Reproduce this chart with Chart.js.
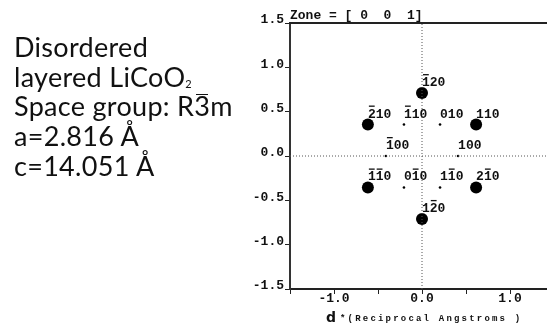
<!DOCTYPE html>
<html>
<head>
<meta charset="utf-8">
<script src="https://cdn.jsdelivr.net/npm/chart.js@4.4.1/dist/chart.umd.min.js"></script>
<style>
html, body { margin: 0; padding: 0; background: #fff; overflow: hidden; }
#wrap { position: relative; width: 547px; height: 326px; overflow: hidden; }
#grafica { position: absolute; left: 0; top: 0; }
.info { position: absolute; left: 14px; top: 32px; font-family: Lato, sans-serif; font-size: 27px; line-height: 29.7px; letter-spacing: 0.3px; color: #111; white-space: nowrap; }
.info sub { font-size: 11px; line-height: 0; vertical-align: -1px; }
.bar { position: relative; }
.bar::before { content: ''; position: absolute; left: 2px; right: 2px; top: 5px; border-top: 1.5px solid #111; }
</style>
</head>
<body>
<div id="wrap">
  <canvas id="grafica" width="560" height="326"></canvas>
  <div class="info">Disordered<br>layered LiCoO<sub>2</sub><br>Space group: R<span class="bar">3</span>m<br>a=2.816 Å<br>c=14.051 Å</div>
</div>
<script>
// reflexiones fuertes (puntos grandes), '-' = barra sobre el siguiente digito
var spotLabels = ['-120', '-210', '110', '-1-10', '2-10', '1-20'];
var spotX = [0, -0.615, 0.615, -0.615, 0.615, 0];
var spotY = [0.71, 0.355, 0.355, -0.355, -0.355, -0.71];

// reflexiones debiles (puntos chicos)
var weakLabels = ['-110', '010', '-100', '100', '0-10', '1-10'];
var weakX = [-0.205, 0.205, -0.41, 0.41, -0.205, 0.205];
var weakY = [0.355, 0.355, 0, 0, -0.355, -0.355];

var yTickValues = [-1.5, -1.0, -0.5, 0, 0.5, 1.0, 1.5];
var yTickLabels = ['-1.5', '-1.0', '-0.5', '0.0', '0.5', '1.0', '1.5'];
var xTickValues = [-1.5, -1.0, -0.5, 0, 0.5, 1.0, 1.5];
var xTickLabels = ['', '-1.0', '', '0.0', '', '1.0', ''];

var zoneTitle = 'Zone = [ 0  0  1]';
var axisTitleBig = 'd';
var axisTitleSmall = '*(Reciprocal Angstroms )';

var mono = '"Liberation Mono", "DejaVu Sans Mono", monospace';

function toPoints(xs, ys) {
    return xs.map(function (x, i) { return { x: x, y: ys[i] }; });
}

function drawMiller(ctx, text, x, y) {
    var cx = x;
    for (var i = 0; i < text.length; i++) {
        var ch = text[i];
        var bar = false;
        if (ch === '-') { bar = true; ch = text[++i]; }
        var w = ctx.measureText(ch).width;
        ctx.fillText(ch, cx, y);
        if (bar) {
            ctx.fillRect(cx + 1, y - 12, w - 2, 1.3);
        }
        cx += w;
    }
}

var extras = {
    id: 'extras',
    afterDatasetsDraw: function (chart) {
        var ctx = chart.ctx;
        var a = chart.chartArea;
        var sx = chart.scales.x, sy = chart.scales.y;
        ctx.save();
        // marco superior
        ctx.strokeStyle = '#222';
        ctx.lineWidth = 2;
        ctx.beginPath();
        ctx.moveTo(a.left - 1, a.top);
        ctx.lineTo(a.right, a.top);
        ctx.stroke();

        // etiquetas de Miller
        ctx.fillStyle = '#111';
        ctx.font = 'bold 13px ' + mono;
        ctx.textAlign = 'left';
        ctx.textBaseline = 'alphabetic';
        spotLabels.forEach(function (t, i) {
            drawMiller(ctx, t, sx.getPixelForValue(spotX[i]), sy.getPixelForValue(spotY[i]) - 7);
        });
        weakLabels.forEach(function (t, i) {
            drawMiller(ctx, t, sx.getPixelForValue(weakX[i]), sy.getPixelForValue(weakY[i]) - 7);
        });

        // titulo de zona
        ctx.font = 'bold 13px ' + mono;
        ctx.textBaseline = 'middle';
        ctx.fillText(zoneTitle, a.left, 16);

        // titulo del eje x
        ctx.textBaseline = 'alphabetic';
        ctx.font = 'bold 14px "DejaVu Sans", sans-serif';
        ctx.fillText(axisTitleBig, 326, 322);
        ctx.font = 'bold 9px ' + mono;
        ctx.letterSpacing = '2.2px';
        ctx.fillText(axisTitleSmall, 340, 321);
        ctx.restore();
    }
};

var ctx = document.getElementById('grafica');
var mychart = new Chart(ctx, {
    type: 'scatter',
    data: {
        datasets: [{
            data: [{ x: -1.5, y: 0 }, { x: 1.5, y: 0 }],
            showLine: true,
            borderColor: '#555',
            borderWidth: 1,
            borderDash: [1, 2],
            pointRadius: 0
        }, {
            data: [{ x: 0, y: -1.5 }, { x: 0, y: 1.5 }],
            showLine: true,
            borderColor: '#555',
            borderWidth: 1,
            borderDash: [1, 2],
            pointRadius: 0
        }, {
            data: toPoints(spotX, spotY),
            pointRadius: 6,
            pointBackgroundColor: '#000',
            pointBorderColor: '#000',
            pointBorderWidth: 0
        }, {
            data: toPoints(weakX, weakY),
            pointRadius: 1.3,
            pointBackgroundColor: '#000',
            pointBorderColor: '#000',
            pointBorderWidth: 0
        }]
    },
    options: {
        responsive: false,
        animation: false,
        devicePixelRatio: 1,
        layout: { padding: { top: 23, right: 3, left: 0, bottom: 0 } },
        plugins: { legend: { display: false }, tooltip: { enabled: false } },
        scales: {
            x: {
                type: 'linear',
                min: -1.5,
                max: 1.5,
                afterBuildTicks: function (s) { s.ticks = xTickValues.map(function (v) { return { value: v }; }); },
                afterFit: function (s) { s.height = 37; },
                ticks: {
                    autoSkip: false,
                    maxRotation: 0,
                    padding: -3,
                    color: '#111',
                    font: { family: mono, size: 13, weight: 'bold' },
                    callback: function (v, i) { return xTickLabels[i]; }
                },
                grid: { drawOnChartArea: false, drawTicks: true, tickLength: 5, tickColor: '#222', tickWidth: 1 },
                border: { color: '#222', width: 2 }
            },
            y: {
                type: 'linear',
                min: -1.5,
                max: 1.5,
                afterBuildTicks: function (s) { s.ticks = yTickValues.map(function (v) { return { value: v }; }); },
                afterFit: function (s) { s.width = 290; },
                ticks: {
                    autoSkip: false,
                    padding: 1,
                    labelOffset: -3,
                    color: '#111',
                    font: { family: mono, size: 13, weight: 'bold' },
                    callback: function (v, i) { return yTickLabels[i]; }
                },
                grid: { drawOnChartArea: false, drawTicks: true, tickLength: 5, tickColor: '#222', tickWidth: 1 },
                border: { color: '#333', width: 2 }
            }
        }
    },
    plugins: [extras]
});
</script>
</body>
</html>
